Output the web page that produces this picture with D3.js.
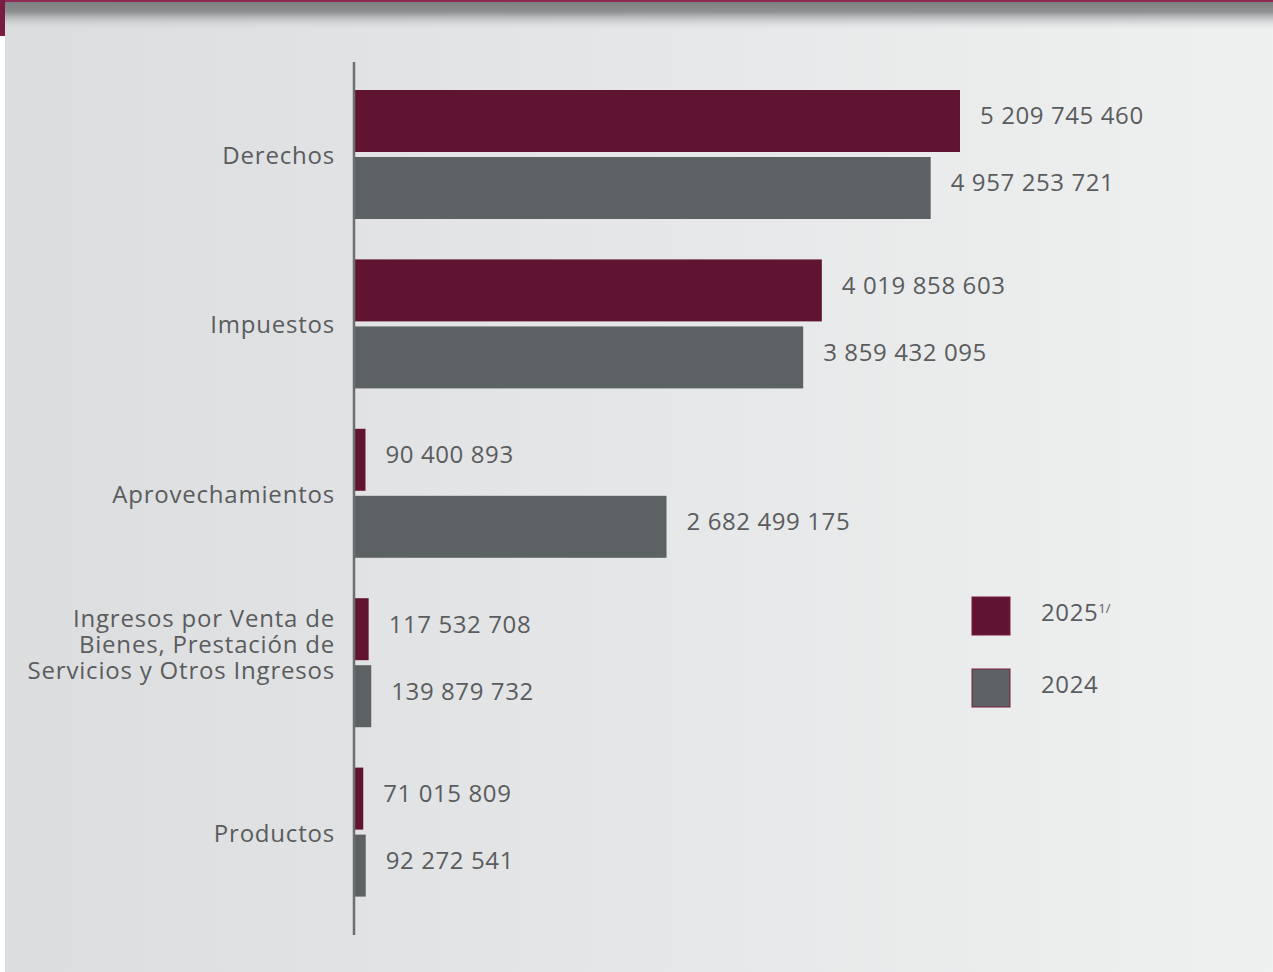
<!DOCTYPE html>
<html>
<head>
<meta charset="utf-8">
<script src="https://cdn.jsdelivr.net/npm/d3@7"></script>
<style>
  html, body { margin: 0; padding: 0; background: #ffffff; }
  svg { display: block; }
  text { font-family: "Open Sans", "Noto Sans", sans-serif; fill: #5a5c5e; }
</style>
</head>
<body>
<svg id="chart" width="1273" height="972"></svg>
<script>
// categories and values (pesos)
const categories = ['Derechos', 'Impuestos', 'Aprovechamientos',
  'Ingresos por Venta de|Bienes, Prestación de|Servicios y Otros Ingresos', 'Productos']
const values2025 = [5209745460, 4019858603, 90400893, 117532708, 71015809]
const values2024 = [4957253721, 3859432095, 2682499175, 139879732, 92272541]
const seriesNames = ['2025', '2024']

const W = 1273
const H = 972
const svg = d3.select('#chart')

const defs = svg.append('defs')
const bg = defs.append('linearGradient').attr('id', 'bg').attr('x1', 0).attr('x2', 1).attr('y1', 0).attr('y2', 0)
bg.append('stop').attr('offset', 0).attr('stop-color', '#dcdddf')
bg.append('stop').attr('offset', 1).attr('stop-color', '#eff0f0')
const shade = defs.append('linearGradient').attr('id', 'shade').attr('x1', 0).attr('x2', 0).attr('y1', 0).attr('y2', 1)
shade.append('stop').attr('offset', 0).attr('stop-color', '#7d7e80').attr('stop-opacity', 1)
shade.append('stop').attr('offset', 0.35).attr('stop-color', '#858688').attr('stop-opacity', 0.9)
shade.append('stop').attr('offset', 1).attr('stop-color', '#d8d9da').attr('stop-opacity', 0)

// background
svg.append('rect').attr('width', W).attr('height', H).attr('fill', '#ffffff')
svg.append('rect').attr('x', 5).attr('width', W - 5).attr('height', H).attr('fill', 'url(#bg)')
svg.append('rect').attr('x', 0).attr('y', 2).attr('width', W).attr('height', 28).attr('fill', 'url(#shade)')
svg.append('rect').attr('x', 0).attr('y', 0).attr('width', W).attr('height', 2).attr('fill', '#8e2c55')
svg.append('rect').attr('x', 0).attr('y', 0).attr('width', 5).attr('height', 36).attr('fill', '#7a1c41')

// scales
const x0 = 355
const x = d3.scaleLinear().domain([0, 5209745460]).range([x0, 960])
const y = d3.scaleBand().domain(d3.range(categories.length)).range([73, 920]).paddingInner(0)
const inner = d3.scaleBand().domain(seriesNames).range([17, 146]).paddingInner(0.075)
const color = d3.scaleOrdinal().domain(seriesNames).range(['#611431', '#5c6164'])

const fmt = v => d3.format(',')(v).replace(/,/g, ' ')

const groups = svg.append('g').selectAll('g')
  .data(categories.map((c, i) => ({ c, i, vals: [values2025[i], values2024[i]] })))
  .join('g')
  .attr('transform', d => `translate(0,${y(d.i)})`)

groups.selectAll('rect')
  .data(d => d.vals.map((v, k) => ({ key: seriesNames[k], v })))
  .join('rect')
  .attr('x', x0)
  .attr('y', d => inner(d.key))
  .attr('width', d => x(d.v) - x0)
  .attr('height', inner.bandwidth())
  .attr('fill', d => color(d.key))

groups.selectAll('text.val')
  .data(d => d.vals.map((v, k) => ({ key: seriesNames[k], v })))
  .join('text')
  .attr('class', 'val')
  .attr('x', d => x(d.v) + 20)
  .attr('y', d => inner(d.key) + inner.bandwidth() / 2 - 5)
  .attr('dy', '0.35em')
  .attr('font-size', 24)
  .attr('letter-spacing', 0.6)
  .text(d => fmt(d.v))

// category labels
groups.append('text')
  .attr('class', 'cat')
  .attr('text-anchor', 'end')
  .attr('font-size', 24)
  .attr('letter-spacing', 0.8)
  .each(function (d) {
    const lines = d.c.split('|')
    const t = d3.select(this)
    const mid = y.bandwidth() / 2 - 2
    lines.forEach((ln, j) => {
      t.append('tspan')
        .attr('x', 335)
        .attr('y', mid + (j - (lines.length - 1) / 2) * 26 - 19 * (lines.length > 1))
        .attr('dy', '0.35em')
        .text(ln)
    })
  })

// axis line
svg.append('line')
  .attr('x1', 354).attr('x2', 354)
  .attr('y1', 62).attr('y2', 935)
  .attr('stroke', '#6d6e70').attr('stroke-width', 2.5)

// legend
const legend = svg.append('g').attr('transform', 'translate(972,597)')
const li = legend.selectAll('g').data(seriesNames).join('g')
  .attr('transform', (d, i) => `translate(0,${i * 72})`)
li.append('rect')
  .attr('width', 38).attr('height', 38)
  .attr('fill', d => color(d))
  .attr('stroke', '#7a1c41').attr('stroke-width', 1)
const lt = li.append('text')
  .attr('x', 69).attr('y', 16).attr('dy', '0.35em')
  .attr('font-size', 24)
  .attr('letter-spacing', 0.6)
  .text(d => d)
lt.filter(d => d === '2025').append('tspan')
  .attr('dy', -8).attr('font-size', 13).attr('letter-spacing', 0).text('1/')
</script>
</body>
</html>
